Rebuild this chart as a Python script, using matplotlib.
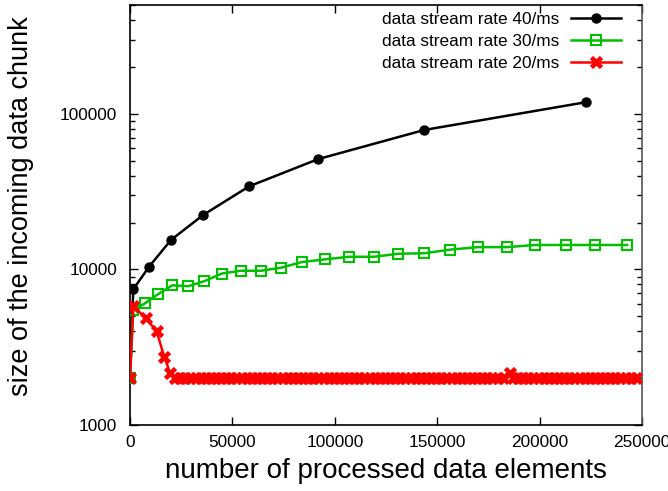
import matplotlib
matplotlib.use("Agg")
import matplotlib.pyplot as plt
from matplotlib.ticker import FixedLocator, FixedFormatter, LogLocator, NullFormatter

plt.rcParams['font.family'] = ['Liberation Sans', 'DejaVu Sans']

labels = ["data stream rate 40/ms", "data stream rate 30/ms", "data stream rate 20/ms"]

black_x = [0, 1600, 9300, 20000, 35800, 58200, 92000, 143700, 222500]
black_y = [2000, 7450, 10400, 15450, 22400, 34200, 51200, 78700, 118600]

green_x = [0, 1600, 7300, 13500, 20600, 28500, 36300, 44800, 54000, 64000, 73700,
           84000, 95200, 106900, 119000, 131000, 143700, 156400, 170000, 184000,
           197900, 212700, 227200, 242700]
green_y = [2000, 5480, 6050, 6900, 7900, 7800, 8400, 9400, 9800, 9800, 10250,
           11150, 11600, 12050, 12050, 12600, 12700, 13400, 13900, 13900,
           14350, 14350, 14350, 14350]

red_x = [0, 1600, 7800, 13000, 16700, 19500,
         22000, 24500, 27000, 29500, 32000, 34500, 37000, 39500, 42000, 44500, 47000, 49500, 52000,
         54500, 57000, 59500, 62000, 64500, 67000, 69500, 72000, 74500, 77000, 79500, 82000, 84500,
         87000, 89500, 92000, 94500, 97000, 99500, 102000, 104500, 107000, 109500, 112000, 114500,
         117000, 119500, 122000, 124500, 127000, 129500, 132000, 134500, 137000, 139500, 142000,
         144500, 147000, 149500, 152000, 154500, 157000, 159500, 162000, 164500, 167000, 169500,
         172000, 174500, 177000, 179500, 182000, 185500, 187000, 189500, 192000, 194500, 197000,
         199500, 202000, 204500, 207000, 209500, 212000, 214500, 217000, 219500, 222000, 224500,
         227000, 229500, 232000, 234500, 237000, 239500, 242000, 244500, 247000]
red_y = [2000, 5800, 4850, 4000, 2750, 2170,
         2000, 2000, 2000, 2000, 2000, 2000, 2000, 2000, 2000, 2000, 2000, 2000, 2000,
         2000, 2000, 2000, 2000, 2000, 2000, 2000, 2000, 2000, 2000, 2000, 2000, 2000,
         2000, 2000, 2000, 2000, 2000, 2000, 2000, 2000, 2000, 2000, 2000, 2000,
         2000, 2000, 2000, 2000, 2000, 2000, 2000, 2000, 2000, 2000, 2000,
         2000, 2000, 2000, 2000, 2000, 2000, 2000, 2000, 2000, 2000, 2000,
         2000, 2000, 2000, 2000, 2000, 2150, 2000, 2000, 2000, 2000, 2000,
         2000, 2000, 2000, 2000, 2000, 2000, 2000, 2000, 2000, 2000, 2000,
         2000, 2000, 2000, 2000, 2000, 2000, 2000, 2000, 2000]

x_ticks = [0, 50000, 100000, 150000, 200000, 250000]
x_tick_labels = ["0", "50000", "100000", "150000", "200000", "250000"]
y_ticks = [1000, 10000, 100000]
y_tick_labels = ["1000", "10000", "100000"]

W, H = 668, 491
fig = plt.figure(figsize=(W / 100, H / 100), dpi=100)
ax = fig.add_axes([130 / W, 1 - 425 / H, (642 - 130) / W, (425 - 5) / H])

ax.plot(black_x, black_y, color='black', lw=1.8, marker='o', ms=6.5,
        mfc='black', mec='black', label=labels[0], zorder=3)
ax.plot(green_x, green_y, color='#00c000', lw=1.8, marker='s', ms=6.5,
        mfc='none', mec='#00c000', mew=1.5, label=labels[1], zorder=4)
ax.plot(red_x, red_y, color='#ff0000', lw=1.8, marker='x', ms=7.5,
        mec='#ff0000', mew=3.3, label=labels[2], zorder=5)

ax.set_yscale('log')
ax.set_xlim(0, 250000)
ax.set_ylim(1000, 500000)

ax.xaxis.set_major_locator(FixedLocator(x_ticks))
ax.xaxis.set_major_formatter(FixedFormatter(x_tick_labels))
ax.yaxis.set_major_locator(FixedLocator(y_ticks))
ax.yaxis.set_major_formatter(FixedFormatter(y_tick_labels))
ax.yaxis.set_minor_locator(LogLocator(base=10, subs=range(2, 10)))
ax.yaxis.set_minor_formatter(NullFormatter())

ax.tick_params(axis='both', which='major', direction='in', length=6, width=1,
               top=True, right=True, labelsize=12.4, colors='black')
ax.tick_params(axis='y', which='minor', direction='in', length=3.5, width=1,
               left=True, right=True)
ax.tick_params(axis='x', which='major', pad=7)
ax.tick_params(axis='y', which='major', pad=9.4)

for sp in ax.spines.values():
    sp.set_linewidth(1.2)
    sp.set_color('black')
ax.spines['right'].set_color('#555555')

ax.set_xlabel("number of processed data elements", fontsize=20, labelpad=6.3)
ax.set_ylabel("size of the incoming data chunk", fontsize=19.5)
ax.yaxis.set_label_coords((34 - 130) / 512, (425 - 206.5) / 420)

leg = ax.legend(loc='upper right', bbox_to_anchor=(621 / W, 1 - 12 / H),
                bbox_transform=fig.transFigure, frameon=False, markerfirst=False,
                fontsize=12.4, handlelength=2.9, handletextpad=0.7,
                labelspacing=0.39, borderpad=0, borderaxespad=0)

fig.savefig("out.png", dpi=100)
